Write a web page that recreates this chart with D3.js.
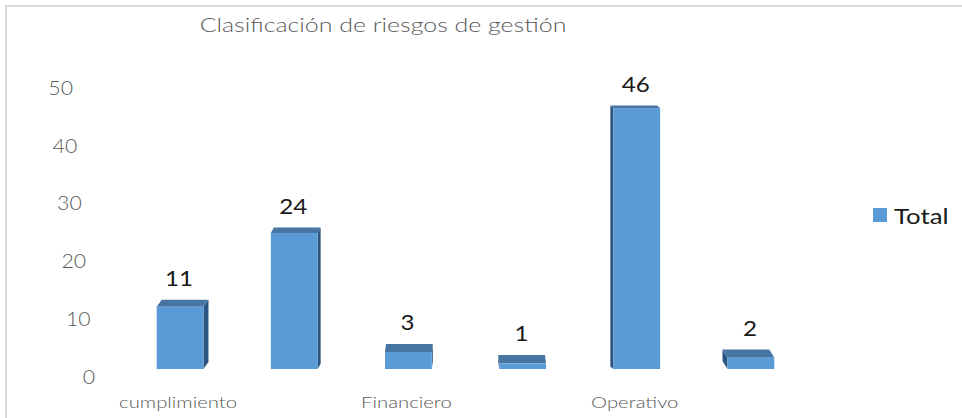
<!DOCTYPE html>
<html>
<head>
<meta charset="utf-8">
<script src="https://cdn.jsdelivr.net/npm/d3@7"></script>
<style>
  body { margin: 0; background: #fff; }
  text { font-family: Lato, "Open Sans", sans-serif; }
</style>
</head>
<body>
<div id="chart"></div>
<script>
// data
var categories = ["cumplimiento", "Estratégico", "Financiero", "Imagen", "Operativo", "Tecnológico"];
var values = [11, 24, 3, 1, 46, 2];
var yTicks = [0, 10, 20, 30, 40, 50];
var seriesName = "Total";
var title = "Clasificación de riesgos de gestión";

var width = 962, height = 418;
var barColor = '#5B9BD5', topColor = '#4675A3', sideColor = '#2B5580';

var svg = d3.select("#chart")
  .append("svg")
  .attr("width", width)
  .attr("height", height);

// chart border (only top and left edges show)
svg.append("path")
  .attr("d", `M6,${height + 2} V6 H${width + 2}`)
  .style('fill', 'none')
  .style('stroke', '#d9d9d9')
  .style('stroke-width', 2);

// title
svg.append("text")
  .attr("transform", "translate(383,32) scale(1.28,1)")
  .attr("text-anchor", "middle")
  .style('font-size', '19.5px')
  .style('font-weight', 300)
  .style('fill', '#595959')
  .text(title);

// scales
var xScale = d3.scalePoint()
  .domain(categories)
  .range([123, 808])
  .padding(0.5);

var barW = xScale.step() * 0.41;

var yScale = d3.scaleLinear()
  .domain([0, 50])
  .range([369, 85.5]);

// the value axis sits on the back wall, so it has its own (slanted) placement
var yTickY = d3.scaleLinear().domain([0, 50]).range([377, 88]);
var yTickX = d3.scaleLinear().domain([0, 50]).range([95, 73]);

svg.append("g")
  .attr('class', 'y-axis')
  .selectAll("text")
  .data(yTicks)
  .enter()
  .append("text")
  .attr("transform", d => `translate(${yTickX(d)},${yTickY(d)}) scale(1.12,1)`)
  .attr("text-anchor", "end")
  .attr("dy", "0.36em")
  .style('font-size', '19px')
  .style('font-weight', 300)
  .style('fill', '#595959')
  .text(d => d);

// category labels, every other one like the original
svg.append("g")
  .attr('class', 'x-axis')
  .selectAll("text")
  .data(categories.filter((d, i) => i % 2 === 0))
  .enter()
  .append("text")
  .attr("transform", d => `translate(${xScale(d) - 2},408) scale(1.27,1)`)
  .attr("text-anchor", "middle")
  .style('font-size', '16px')
  .style('font-weight', 300)
  .style('fill', '#595959')
  .text(d => d);

// 3d columns
var vanishX = (xScale.range()[0] + xScale.range()[1]) / 2;

var bars = categories.map(function(c, i) {
  var cx = xScale(c);
  var top = yScale(values[i]);
  return {
    name: c,
    value: values[i],
    x0: cx - barW / 2,
    x1: cx + barW / 2,
    top: top,
    base: yScale(0),
    dx: (vanishX - cx) * 0.0175,
    dy: 2 + (top - 80) * 0.022
  };
});

var barG = svg.append("g").attr('class', 'bars');

// side face
barG.selectAll(".side")
  .data(bars)
  .enter()
  .append("path")
  .attr("class", "side")
  .attr("d", function(d) {
    var ex = d.dx > 0 ? d.x1 : d.x0;
    return `M${ex},${d.top} L${ex + d.dx},${d.top - d.dy} L${ex + d.dx},${d.base - d.dy} L${ex},${d.base} Z`;
  })
  .style('fill', sideColor);

// top face
barG.selectAll(".top")
  .data(bars)
  .enter()
  .append("path")
  .attr("class", "top")
  .attr("d", d => `M${d.x0},${d.top} L${d.x1},${d.top} L${d.x1 + d.dx},${d.top - d.dy} L${d.x0 + d.dx},${d.top - d.dy} Z`)
  .style('fill', topColor);

// front face
barG.selectAll(".front")
  .data(bars)
  .enter()
  .append("rect")
  .attr("class", "front")
  .attr("x", d => d.x0)
  .attr("y", d => d.top)
  .attr("width", barW)
  .attr("height", d => d.base - d.top)
  .style('fill', barColor);

// value labels
svg.append("g")
  .attr('class', 'labels')
  .selectAll("text")
  .data(bars)
  .enter()
  .append("text")
  .attr("transform", d => `translate(${xScale(d.name) - 1},${d.top - d.dy - 14}) scale(1.1,1)`)
  .attr("text-anchor", "middle")
  .style('font-size', '22px')
  .style('fill', '#1a1a1a')
  .text(d => d.value);

// legend
var legend = svg.append("g").attr('class', 'legend');
legend.append("rect")
  .attr("x", 873)
  .attr("y", 208)
  .attr("width", 14)
  .attr("height", 14)
  .style('fill', barColor);
legend.append("text")
  .attr("transform", "translate(894,224) scale(1.17,1)")
  .style('font-size', '22px')
  .style('fill', '#1a1a1a')
  .text(seriesName);
</script>
</body>
</html>
